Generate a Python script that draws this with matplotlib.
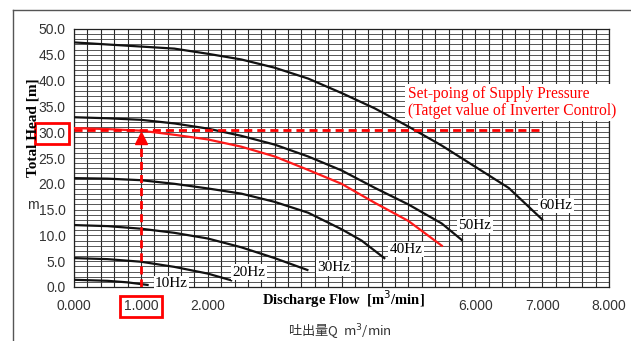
import numpy as np
import matplotlib
matplotlib.use('Agg')
import matplotlib.pyplot as plt
from matplotlib.lines import Line2D

# Pump curves (flow Q [m3/min] vs total head [m])
q_60 = [0, 0.5, 1.0, 1.5, 2.0, 2.5, 3.0, 3.5, 4.0, 4.5, 5.0, 5.5, 6.0, 6.5, 7.0]
h_60 = [47.4, 47.0, 46.6, 46.2, 45.2, 44.1, 42.5, 40.4, 37.6, 34.6, 31.1, 27.4, 23.3, 19.2, 13.1]

q_50 = [0, 0.5, 1.0, 1.5, 2.0, 2.5, 3.0, 3.5, 4.0, 4.5, 5.0, 5.5, 5.8]
h_50 = [32.9, 32.7, 32.4, 31.7, 30.7, 29.3, 27.6, 25.3, 22.6, 19.2, 16.0, 12.3, 9.1]

q_red = [0, 0.5, 1.0, 1.5, 2.0, 2.5, 3.0, 3.5, 4.0, 4.5, 5.0, 5.5]
h_red = [30.8, 30.6, 30.3, 29.5, 28.6, 27.2, 25.3, 22.7, 20.0, 16.3, 12.8, 8.0]

q_40 = [0, 0.5, 1.0, 1.5, 2.0, 2.5, 3.0, 3.5, 4.0, 4.3, 4.64]
h_40 = [21.1, 21.0, 20.7, 20.0, 19.1, 18.1, 16.5, 14.4, 11.2, 9.0, 5.6]

q_30 = [0, 0.5, 1.0, 1.5, 2.0, 2.5, 3.0, 3.49]
h_30 = [12.0, 11.8, 11.3, 10.5, 9.4, 7.7, 5.6, 3.3]

q_20 = [0, 0.5, 1.0, 1.5, 2.0, 2.35]
h_20 = [5.6, 5.4, 4.9, 3.9, 2.6, 1.3]

q_10 = [0, 0.5, 0.8, 1.1]
h_10 = [1.4, 1.2, 0.9, 0.4]

hz_labels = ['10Hz', '20Hz', '30Hz', '40Hz', '50Hz', '60Hz']

x_ticks = [0, 1, 2, 3, 4, 5, 6, 7, 8]
x_tick_labels = ['0.000', '1.000', '2.000', '', '', '', '6.000', '7.000', '8.000']
y_ticks = [0, 5, 10, 15, 20, 25, 30, 35, 40, 45, 50]
y_tick_labels = ['0.0', '5.0', '10.0', '15.0', '20.0', '25.0', '30.0', '35.0', '40.0', '45.0', '50.0']

set_head = 30.4   # set point of supply pressure
set_flow = 1.0

fig = plt.figure(figsize=(6.31, 3.41), dpi=100)
ax = fig.add_axes([74 / 631, 1 - 287 / 341, 535 / 631, 258 / 341])
ax.set_xlim(0, 8)
ax.set_ylim(0, 50)

# dense graph-paper grid
for x in np.arange(0, 8.01, 0.2):
    ax.axvline(x, color='#2a2a2a', lw=0.8, zorder=1)
for y in np.arange(0, 50.01, 1.0):
    ax.axhline(y, color='#3a3a3a', lw=0.6, zorder=1)
for s in ax.spines.values():
    s.set_color('#222222')
    s.set_linewidth(0.9)

ax.tick_params(axis='y', length=0, pad=6, labelsize=10, labelcolor='#333333')
ax.tick_params(axis='x', length=0, pad=9, labelsize=10, labelcolor='#333333')
ax.set_xticks(x_ticks)
ax.set_xticklabels(x_tick_labels, family='Liberation Sans')
ax.set_yticks(y_ticks)
ax.set_yticklabels(y_tick_labels, family='Liberation Sans')

# black pump curves
curves = [(q_10, h_10), (q_20, h_20), (q_30, h_30), (q_40, h_40), (q_50, h_50), (q_60, h_60)]
for q, h in curves:
    ax.plot(q, h, color='#111111', lw=1.6, zorder=3)
ax.plot(q_red, h_red, color='#ff1a1a', lw=1.6, zorder=4)

# curve labels
label_pos = [(1.21, 0.6), (2.37, 2.9), (3.63, 3.7), (4.72, 7.3), (5.75, 12.0), (6.96, 15.8)]
for txt, (lx, ly) in zip(hz_labels, label_pos):
    ax.text(lx, ly, txt, family='Liberation Serif', fontsize=11, va='center', ha='left',
            bbox=dict(boxstyle='square,pad=0.08', fc='white', ec='none'), zorder=5)

# set-point lines
ax.plot([0, 7.0], [set_head, set_head], color='red', lw=2, dashes=(2.9, 1.8), zorder=6)
ax.plot([set_flow, set_flow], [0, 27.8], color='red', lw=2, dashes=(2.9, 1.8), zorder=6)
ax.plot([set_flow], [28.9], marker='^', ms=8.5, color='red', mec='red', zorder=6)

ax.text(4.99, 35.8, 'Set-poing of Supply Pressure\n(Tatget value of Inverter Control)',
        family='Liberation Serif', fontsize=11.2, color='red', va='center', ha='left',
        linespacing=1.05, bbox=dict(boxstyle='square,pad=0.15', fc='white', ec='none'), zorder=7)

# red boxes round the 30.0 and 1.000 tick labels
for lab in ax.get_yticklabels():
    if lab.get_text() == '30.0':
        lab.set_bbox(dict(boxstyle='square,pad=0.25', fc='none', ec='red', lw=2))
for lab in ax.get_xticklabels():
    if lab.get_text() == '1.000':
        lab.set_bbox(dict(boxstyle='square,pad=0.25', fc='none', ec='red', lw=2))

# axis titles
fig.text(33 / 631, 1 - 128 / 341, 'Total Head [m]', rotation=90, family='Liberation Serif',
         fontweight='bold', fontsize=11, ha='center', va='center')
fig.text(33 / 631, 1 - 205 / 341, 'm', family='Liberation Sans', fontsize=10,
         color='#333333', ha='center', va='center')
fig.text(343 / 631, 1 - 299 / 341, 'Discharge Flow  [m$^3$/min]', family='Liberation Serif',
         fontweight='bold', fontsize=10.5, ha='center', va='center')
fig.text(340 / 631, 1 - 332 / 341, '吐出量Q  m$^3$/min', family=['Noto Sans CJK JP', 'DejaVu Sans'],
         fontsize=9.5, color='#333333', ha='center', va='center')

# scan frame
fig.add_artist(Line2D([13 / 631, 13 / 631], [0, 1 - 10 / 341], color='#555555', lw=1))
fig.add_artist(Line2D([13 / 631, 1], [1 - 10 / 341, 1 - 10 / 341], color='#555555', lw=1))

fig.savefig('out.png', dpi=100)
